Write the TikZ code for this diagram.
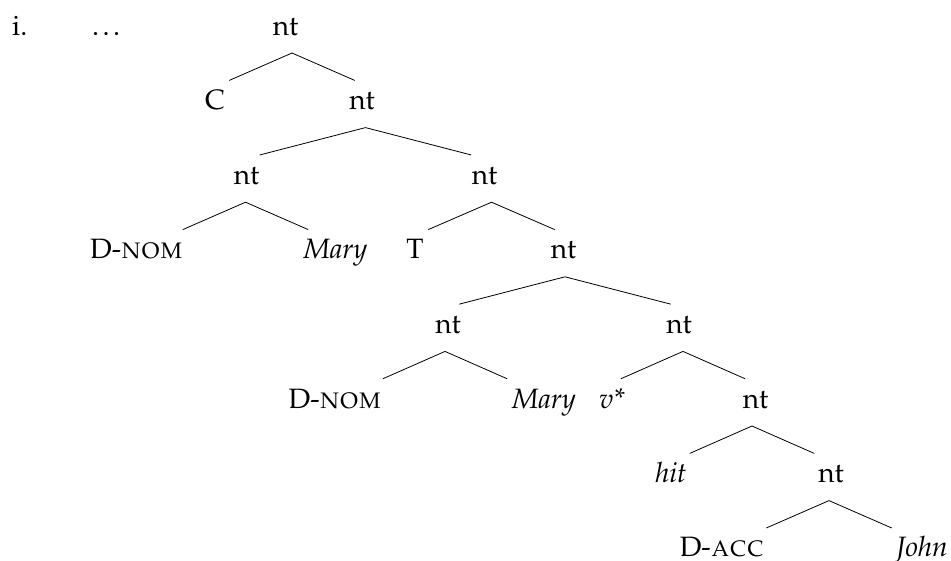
\documentclass[tikz,border=0pt]{standalone}
\usepackage[T1]{fontenc}
\usepackage{mathpazo}

\begin{document}
\begin{tikzpicture}[x=1pt,y=-1pt,line cap=round,line join=round,
    every node/.style={inner sep=0pt,anchor=base,font=\fontsize{28}{34}\selectfont},
    branch/.style={line width=0.8pt}]
    \useasboundingbox (0,0) rectangle (951,560);
    % labels of the tree
    \node[anchor=base west] (num) at (12,35) {i.};
    \node[anchor=base west] (dots) at (92,35) {.\kern3.5pt.\kern3.5pt.};
    \node (n1) at (285.5,35) {nt};
    \node (c) at (215,109.6) {C};
    \node (n2) at (362,109.6) {nt};
    \node (n3) at (246.5,184.2) {nt};
    \node (n4) at (484.5,184.2) {nt};
    \node (dnom1) at (136.5,258.8) {D-\textsc{nom}};
    \node (mary1) at (335.5,258.8) {\textit{Mary}};
    \node (t) at (415,258.8) {T};
    \node (n5) at (563.5,258.8) {nt};
    \node (n6) at (448,333.4) {nt};
    \node (n7) at (679,333.4) {nt};
    \node (dnom2) at (335,408) {D-\textsc{nom}};
    \node (mary2) at (544,408) {\textit{Mary}};
    \node (vstar) at (612,408) {\textit{v*}};
    \node (n8) at (755.5,408) {nt};
    \node (hit) at (671,482.6) {\textit{hit}};
    \node (n9) at (831,482.6) {nt};
    \node (dacc) at (722,556.5) {D-\textsc{acc}};
    \node (john) at (922,556.5) {\textit{John}};
    % branches: parent / shift of apex / spread
    \foreach \p/\s/\w in {n1/6.5/62.5, n2/3.5/105.5, n3/-1/62.5, n4/7/63,
                          n5/1.5/105.5, n6/-3/62, n7/4/62, n8/-3.5/62, n9/-2/62.5}
        \draw[branch] ([shift={(\s,18)}]\p.base) -- ++(-\w,27.3)
                      ([shift={(\s,18)}]\p.base) -- ++(\w,27.3);
\end{tikzpicture}
\end{document}
